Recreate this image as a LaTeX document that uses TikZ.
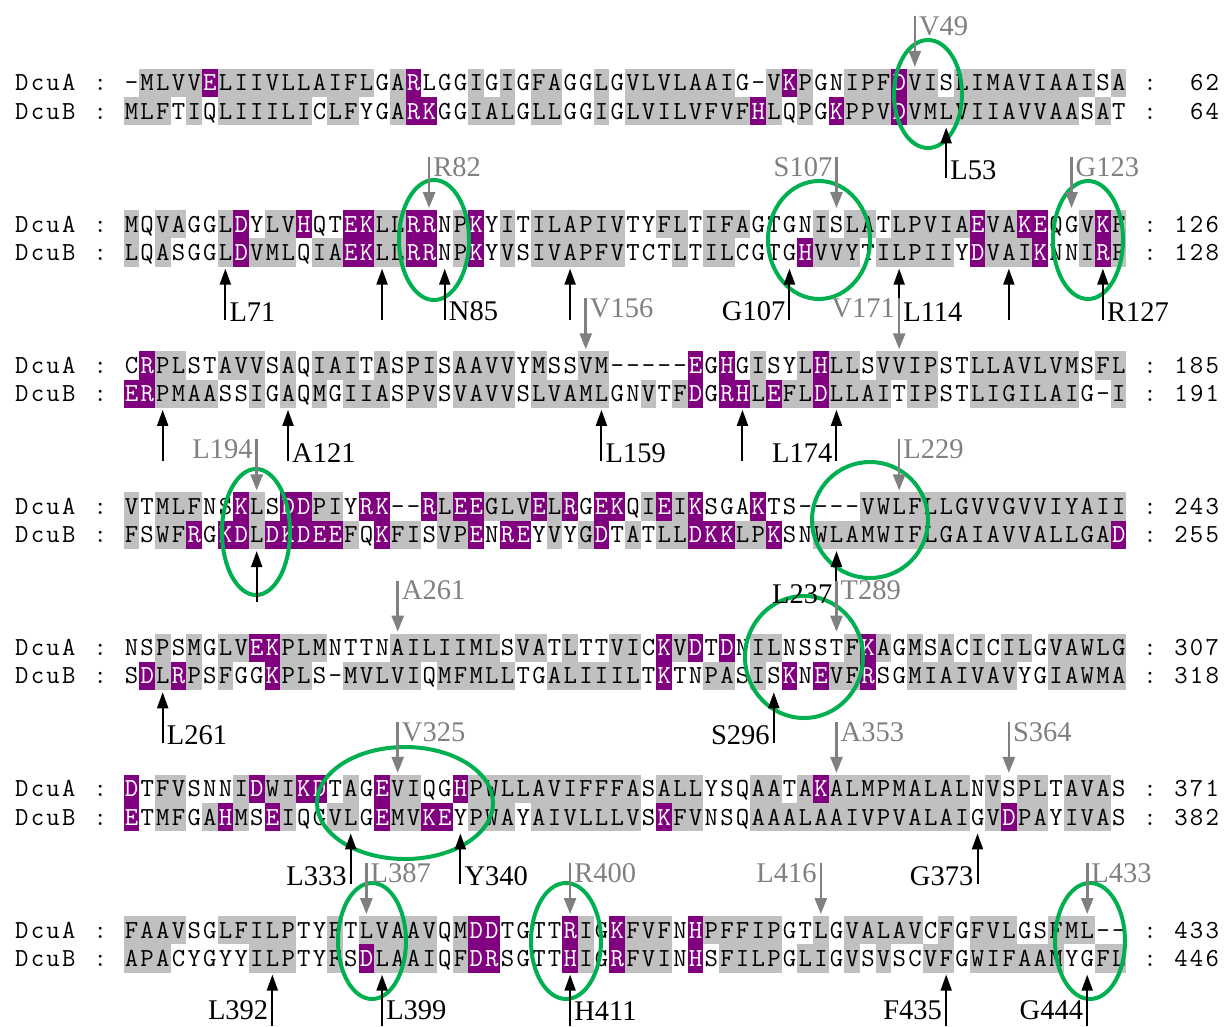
\documentclass[tikz,border=0pt]{standalone}
\usepackage{fontspec}
\newfontfamily\labelfont{Liberation Serif}
\usetikzlibrary{arrows.meta}

\definecolor{hydgray}{RGB}{192,192,192}
\definecolor{chargepurple}{RGB}{128,0,128}
\definecolor{ringgreen}{RGB}{0,176,80}
\definecolor{markgray}{RGB}{128,128,128}

\newlength\cellw
\setlength\cellw{15.67pt}
\newcount\colno

\makeatletter
% one character per column, charged residues in white
\def\resline#1{\res@#1\res@end}
\def\res@#1{\ifx#1\res@end\else\in@{#1}{DEKRH}\ifin@\makebox[\cellw][c]{\color{white}#1}\else\makebox[\cellw][c]{#1}\fi\expandafter\res@\fi}
% plain characters on the same grid
\def\gridline#1{\grid@#1\res@end}
\def\grid@#1{\ifx#1\res@end\else\makebox[\cellw][c]{#1}\expandafter\grid@\fi}
% grey cells from a mask (g = grey, | = group separator)
\def\grayrow#1#2{\def\rowtop{#1}\colno=0 \gray@#2\res@end}
\def\gray@#1{\ifx#1\res@end\else
  \if|#1\else
    \advance\colno by 1
    \if g#1\fill[hydgray] ({\xo+(\the\colno-1)*\cw},\rowtop) rectangle ++(\cw,\rh);\fi
  \fi
  \expandafter\gray@\fi}
% purple cells under charged residues
\def\purplerow#1#2{\def\rowtop{#1}\colno=0 \purple@#2\res@end}
\def\purple@#1{\ifx#1\res@end\else
  \advance\colno by 1
  \in@{#1}{DEKRH}%
  \ifin@\fill[chargepurple] ({\xo+(\the\colno-1)*\cw},\rowtop) rectangle ++(\cw,\rh);\fi
  \expandafter\purple@\fi}
\makeatother

% block: number, DcuA residues, mask, end, DcuB residues, mask, end
\newcommand\alnblock[7]{%
  \pgfmathsetmacro\rowa{83+#1*\bsep-\rh/2}
  \pgfmathsetmacro\rowb{\rowa+\rh}
  \grayrow{\rowa}{#3}
  \grayrow{\rowb}{#6}
  \purplerow{\rowa}{#2}
  \purplerow{\rowb}{#5}
  \node[seqtext] (nameA#1) at ({\xo-7*\cw},\rowa+22) {\gridline{DcuA}};
  \node[seqtext] (colA#1) at ({\xo-2*\cw},\rowa+22) {\gridline{:}};
  \node[seqtext] (seqA#1) at (\xo,\rowa+22) {\resline{#2}};
  \node[seqtext] (sepA#1) at ({\xo+65*\cw},\rowa+22) {\gridline{:}};
  \node[seqtext, anchor=base east] (endA#1) at ({\xo+70*\cw},\rowa+22) {\gridline{#4}};
  \node[seqtext] (nameB#1) at ({\xo-7*\cw},\rowb+22) {\gridline{DcuB}};
  \node[seqtext] (colB#1) at ({\xo-2*\cw},\rowb+22) {\gridline{:}};
  \node[seqtext] (seqB#1) at (\xo,\rowb+22) {\resline{#5}};
  \node[seqtext] (sepB#1) at ({\xo+65*\cw},\rowb+22) {\gridline{:}};
  \node[seqtext, anchor=base east] (endB#1) at ({\xo+70*\cw},\rowb+22) {\gridline{#7}};
}

% grey arrow onto DcuA: name, block, column, label, side
\newcommand\tmdown[5]{%
  \pgfmathsetmacro\ax{\xo+(#3-0.5)*\cw}
  \pgfmathsetmacro\ay{83+#2*\bsep-0.5*\rh}
  \coordinate (#1s) at (\ax,\ay-53);
  \coordinate (#1t) at (\ax,\ay-2);
  \draw[downarrow] (#1s) -- (#1t);
  \node[tmlabel, text=markgray, #5=4pt, yshift=-10pt] (#1) at (#1s) {#4};
}
% black arrow onto DcuB: name, block, column, label (may be empty), side
\newcommand\tmup[5]{%
  \pgfmathsetmacro\ax{\xo+(#3-0.5)*\cw}
  \pgfmathsetmacro\ay{83+#2*\bsep+1.5*\rh}
  \pgfmathsetmacro\ly{#2==6 ? 15 : 8}% last block: keep labels on the page
  \coordinate (#1s) at (\ax,\ay+53);
  \coordinate (#1t) at (\ax,\ay+2);
  \draw[uparrow] (#1s) -- (#1t);
  \if\relax\detokenize{#4}\relax\else
    \node[tmlabel, #5=4pt, yshift=\ly pt] (#1) at (#1s) {#4};
  \fi
}

\begin{document}
\begin{tikzpicture}[x=1pt, y=-1pt,
    seqtext/.style={anchor=base west, inner sep=0pt, font=\ttfamily\fontsize{26}{30}\selectfont},
    tmlabel/.style={inner sep=0pt, font=\labelfont\fontsize{28.5}{30}\selectfont},
    downarrow/.style={markgray, line width=2.6pt, -{Triangle[length=16pt,width=12pt]}},
    uparrow/.style={black, line width=2pt, -{Triangle[length=16pt,width=11pt]}},
    ring/.style={ringgreen, line width=4pt}]
  % grid of the alignment (1 unit = 1 px of the figure)
  \def\xo{123.5}
  \def\cw{15.67}
  \def\rh{28.3}
  \def\bsep{141.2}
  \fill[white] (0,0) rectangle (1224,1027);
  \useasboundingbox (0,0) rectangle (1224,1027);

  % alignment blocks
  \alnblock{0}{-MLVVELIIVLLAIFLGARLGGIGIGFAGGLGVLVLAAIG-VKPGNIPFDVISLIMAVIAAISA}
    {wggggpgggg|ggggggwgpw|wwgwgwggww|gwgggggggw|wgpgwwgggp|ggwggggggg|ggwg}{62}
    {MLFTIQLIIILICLFYGARKGGIALGLLGGIGLVILVFVFHLQPGKPPVDVMLVIIAVVAASAT}
    {gggwgwgggg|ggwggwwgpp|wwgggwggww|gwgggggggg|pgwgwpgggp|gggggggggg|gwgw}{64}
  \alnblock{1}{MQVAGGLDYLVHQTEKLLRRNPKYITILAPIVTYFLTIFAGTGNISLATLPVIAEVAKEQGVKF}
    {gwggwwgpwg|gpwwppggpp|wgpwgwgggg|ggwwggwggg|wwwwgwggwg|ggggpggppw|wgpg}{126}
    {LQASGGLDVMLQIAEKLLRRNPKYVSIVAPFVTCTLTILCGTGHVVYTILPIIYDVAIKNNIRF}
    {gwgwwwgpgg|gwggppggpp|wgpwgwgggg|ggwwwgwggw|wwwpgggwgg|gggwpgggpw|wgpg}{128}
  \alnblock{2}{CRPLSTAVVSAQIAITASPISAAVVYMSSVM-----EGHGISYLHLLSVVIPSTLLAVLVMSFL}
    {wpggwwgggw|gwgggwgwgg|wggggwgwwg|gwwwwwpwpw|gwwgpggwgg|ggwwgggggg|gwgg}{185}
    {ERPMAASSIGAQMGIIASPVSVAVVSLVAMLGNVTFDGRHLEFLDLLAITIPSTLIGILAIG-I}
    {ppggggwwgw|gwgwgggwgg|wggggwgggg|gwwgwgpwpp|gpggpggggw|ggwwgggggg|gwwg}{191}
  \alnblock{3}{VTMLFNSKLSDDPIYRK--RLEEGLVELRGEKQIEIKSGAKTS----VWLFLLGVVGVVIYAII}
    {gwgggwwpgw|ppggwppwwp|gppgggpgpw|ppwgpgpwww|pwwwwwwggg|gggggggggg|gggg}{243}
    {FSWFRGKDLDKDEEFQKFISVPENREYVYGDTATLLDKKLPKSNWLAMWIFLGAIAVVALLGAD}
    {gwggpwppgp|ppppgwpggw|ggpwppwgwg|pwgwggpppg|gpwwgggggg|gggggggggg|gggp}{255}
  \alnblock{4}{NSPSMGLVEKPLMNTTNAILIIMLSVATLTTVICKVDTDNILNSSTFKAGMSACICILGVAWLG}
    {wwgwgwggpp|gggwwwwggg|ggggwggwgw|wggwpgpwpw|ggwwwwgpgw|gwgwgwggwg|gggg}{307}
    {SDLRPSFGGKPLS-MVLVIQMFMLLTGALIIILTKTNPASISKNEVFRSGMIAIVAVYGIAWMA}
    {wpgpgwgwwp|ggwwgggggw|gggggwwggg|gggwpwwggw|gwpwpggpww|gggggggwwg|gggg}{318}
  \alnblock{5}{DTFVSNNIDWIKDTAGEVIQGHPWLLAVIFFFASALLYSQAATAKALMPMALALNVSPLTAVAS}
    {pwggwwwgpg|gppwgwpggw|wpgggggggg|gggwgggwww|ggwgpggggg|ggggwgwggw|gggw}{371}
    {ETMFGAHMSEIQGVLGEMVKEYPWAYAIVLLLVSKFVNSQAAALAAIVPVALAIGVDPAYIVAS}
    {pwggwgpgwp|gwwggwpggp|pwgggwgggg|gggwpggwww|gggggggggg|ggggwgpggw|gggw}{382}
  \alnblock{6}{FAAVSGLFILPTYFTLVAAVQMDDTGTTRIGKFVFNHPFFIPGTLGVALAVCFGFVLGSFML--}
    {ggggwwgggg|gwwgwggggg|wgppwwwwpg|wpgggwpggg|ggwwgwgggg|gwgwgggwwg|ggww}{433}
    {APACYGYYILPTYFSDLAAIQFDRSGTTHIGRFVINHSFILPGLIGVSVSCVFGWIFAAMYGFL}
    {gggwwwwwgg|gwwgwpgggg|wgppwwwwpg|wpgggwpwgg|ggwggwgwgw|wggwgggggg|wwgg}{446}

  % conserved regions
  \draw[ring] (928,94) ellipse [x radius=34, y radius=54];
  \draw[ring] (434,240) ellipse [x radius=35, y radius=60];
  \draw[ring] (819,240) ellipse [x radius=51, y radius=59];
  \draw[ring] (1088,240) ellipse [x radius=35, y radius=59];
  \draw[ring] (256,532) ellipse [x radius=34, y radius=63];
  \draw[ring] (870,520) ellipse [x radius=58, y radius=58];
  \draw[ring] (804,657) ellipse [x radius=59, y radius=61];
  \draw[ring] (405,803) ellipse [x radius=88, y radius=56];
  \draw[ring] (372,941) ellipse [x radius=34, y radius=58];
  \draw[ring] (566,941) ellipse [x radius=35, y radius=58];
  \draw[ring] (1090,941) ellipse [x radius=35, y radius=58];

  % residues marked in DcuA (grey) and DcuB (black)
  \tmdown{v49}{0}{51}{V49}{right}
  \tmup{l53}{0}{53}{L53}{right}
  \tmdown{r82}{1}{20}{R82}{right}
  \tmdown{s107}{1}{46}{S107}{left}
  \tmdown{g123}{1}{61}{G123}{right}
  \tmup{l71}{1}{7}{L71}{right}
  \tmup{b1a}{1}{17}{}{right}
  \tmup{n85}{1}{21}{N85}{right}
  \tmup{b1b}{1}{29}{}{right}
  \tmup{g107}{1}{43}{G107}{left}
  \tmup{l114}{1}{50}{L114}{right}
  \tmup{b1c}{1}{57}{}{right}
  \tmup{r127}{1}{63}{R127}{right}
  \tmdown{v156}{2}{30}{V156}{right}
  \tmdown{v171}{2}{50}{V171}{left}
  \tmup{b2a}{2}{3}{}{right}
  \tmup{a121}{2}{11}{A121}{right}
  \tmup{l159}{2}{31}{L159}{right}
  \tmup{b2b}{2}{40}{}{right}
  \tmup{l174}{2}{46}{L174}{left}
  \tmdown{l194}{3}{9}{L194}{left}
  \tmdown{l229}{3}{50}{L229}{right}
  \tmup{b3a}{3}{9}{}{right}
  \tmup{l237}{3}{46}{L237}{left}
  \tmdown{a261}{4}{18}{A261}{right}
  \tmdown{t289}{4}{46}{T289}{right}
  \tmup{l261}{4}{3}{L261}{right}
  \tmup{s296}{4}{42}{S296}{left}
  \tmdown{v325}{5}{18}{V325}{right}
  \tmdown{a353}{5}{46}{A353}{right}
  \tmdown{s364}{5}{57}{S364}{right}
  \tmup{l333}{5}{15}{L333}{left}
  \tmup{y340}{5}{22}{Y340}{right}
  \tmup{g373}{5}{55}{G373}{left}
  \tmdown{l387}{6}{16}{L387}{right}
  \tmdown{r400}{6}{29}{R400}{right}
  \tmdown{l416}{6}{45}{L416}{left}
  \tmdown{l433}{6}{62}{L433}{right}
  \tmup{l392}{6}{10}{L392}{left}
  \tmup{l399}{6}{17}{L399}{right}
  \tmup{h411}{6}{29}{H411}{right}
  \tmup{f435}{6}{53}{F435}{left}
  \tmup{g444}{6}{62}{G444}{left}
\end{tikzpicture}
\end{document}
